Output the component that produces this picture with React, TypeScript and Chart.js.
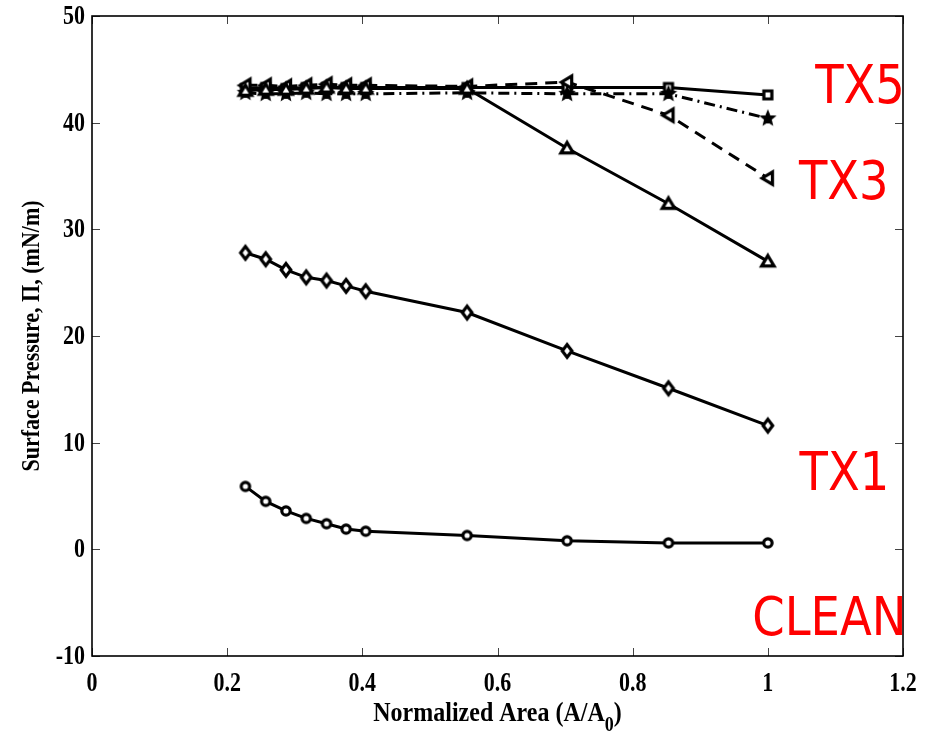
import React, { useEffect, useRef } from "react";
import { Chart, registerables } from "chart.js";

Chart.register(...registerables);

// Normalized trough area A/A0 at which each isotherm point was taken
const areaRatio = [0.227, 0.257, 0.287, 0.317, 0.347, 0.376, 0.405, 0.555, 0.703, 0.853, 1.0];

// Surface pressure (mN/m) for each film
const cleanPressure = [5.9, 4.5, 3.6, 2.9, 2.4, 1.9, 1.7, 1.3, 0.8, 0.6, 0.6];
const tx1Pressure = [27.8, 27.2, 26.2, 25.5, 25.2, 24.7, 24.2, 22.2, 18.6, 15.1, 11.6];
const tx2Pressure = [43.0, 43.1, 43.1, 43.2, 43.3, 43.2, 43.2, 43.2, 37.6, 32.4, 27.0];
const tx3Pressure = [43.5, 43.5, 43.4, 43.5, 43.6, 43.5, 43.5, 43.4, 43.8, 40.7, 34.8];
const tx4Pressure = [42.8, 42.7, 42.7, 42.8, 42.7, 42.7, 42.7, 42.8, 42.7, 42.7, 40.4];
const tx5Pressure = [43.2, 43.3, 43.2, 43.3, 43.3, 43.3, 43.3, 43.3, 43.3, 43.3, 42.6];

const xTicks = [0, 0.2, 0.4, 0.6, 0.8, 1, 1.2];
const yTicks = [-10, 0, 10, 20, 30, 40, 50];
const xTickLabels = ["0", "0.2", "0.4", "0.6", "0.8", "1", "1.2"];
const yTickLabels = ["-10", "0", "10", "20", "30", "40", "50"];

const sideLabels = ["TX5", "TX3", "TX1", "CLEAN"];

const SERIF = "'Liberation Serif', 'Times New Roman', serif";

function makeMarker(kind: string): HTMLCanvasElement {
  const c = document.createElement("canvas");
  c.width = 24;
  c.height = 24;
  const g = c.getContext("2d")!;
  g.translate(12, 12);
  g.lineWidth = 3.2;
  g.strokeStyle = "#000";
  g.fillStyle = "#fff";
  g.lineJoin = "miter";
  g.beginPath();
  if (kind === "circle") {
    g.arc(0, 0, 4.2, 0, Math.PI * 2);
  } else if (kind === "diamond") {
    g.moveTo(0, -6.4);
    g.lineTo(4.8, 0);
    g.lineTo(0, 6.4);
    g.lineTo(-4.8, 0);
    g.closePath();
  } else if (kind === "triangle") {
    g.moveTo(0, -5.8);
    g.lineTo(6.2, 4.6);
    g.lineTo(-6.2, 4.6);
    g.closePath();
  } else if (kind === "left") {
    g.moveTo(-5.8, 0);
    g.lineTo(4.6, -6.2);
    g.lineTo(4.6, 6.2);
    g.closePath();
  } else if (kind === "square") {
    g.rect(-4, -4, 8, 8);
  } else if (kind === "star") {
    g.fillStyle = "#000";
    for (let i = 0; i < 10; i++) {
      const r = i % 2 === 0 ? 7.2 : 3.2;
      const a = -Math.PI / 2 + (i * Math.PI) / 5;
      const px = r * Math.cos(a);
      const py = r * Math.sin(a);
      if (i === 0) g.moveTo(px, py);
      else g.lineTo(px, py);
    }
    g.closePath();
    g.lineWidth = 1.5;
  }
  g.fill();
  g.stroke();
  return c;
}

// draws text stretched vertically around its baseline point
function tallText(ctx: CanvasRenderingContext2D, text: string, x: number, y: number, sy: number) {
  ctx.save();
  ctx.translate(x, y);
  ctx.scale(1, sy);
  ctx.fillText(text, 0, 0);
  ctx.restore();
}

const framePlugin = {
  id: "matlabFrame",
  beforeDatasetsDraw(chart: any) {
    const { ctx, chartArea: a, scales } = chart;
    const tick = 8;
    ctx.save();
    ctx.strokeStyle = "#444";
    ctx.lineWidth = 1;
    ctx.beginPath();
    for (const v of xTicks) {
      const x = Math.round(scales.x.getPixelForValue(v)) + 0.5;
      ctx.moveTo(x, a.bottom);
      ctx.lineTo(x, a.bottom - tick);
      ctx.moveTo(x, a.top);
      ctx.lineTo(x, a.top + tick);
    }
    for (const v of yTicks) {
      const y = Math.round(scales.y.getPixelForValue(v)) + 0.5;
      ctx.moveTo(a.left, y);
      ctx.lineTo(a.left + tick, y);
      ctx.moveTo(a.right, y);
      ctx.lineTo(a.right - tick, y);
    }
    ctx.stroke();
    ctx.strokeStyle = "#000";
    ctx.lineWidth = 1.6;
    ctx.strokeRect(a.left, a.top, a.right - a.left, a.bottom - a.top);
    ctx.restore();
  },
  afterDraw(chart: any) {
    const { ctx, chartArea: a, scales } = chart;
    ctx.save();
    ctx.fillStyle = "#000";
    ctx.textBaseline = "alphabetic";

    // tick labels
    ctx.font = `bold 22px ${SERIF}`;
    ctx.textAlign = "center";
    xTicks.forEach((v, i) => {
      tallText(ctx, xTickLabels[i], scales.x.getPixelForValue(v), a.bottom + 35, 1.2);
    });
    ctx.textAlign = "right";
    yTicks.forEach((v, i) => {
      tallText(ctx, yTickLabels[i], a.left - 7, scales.y.getPixelForValue(v) + 8, 1.2);
    });

    // x-axis title with subscript
    ctx.textAlign = "left";
    const main = "Normalized Area (A/A";
    const sub = "0";
    const close = ")";
    const mainFont = `bold 24px ${SERIF}`;
    const subFont = `bold 18px ${SERIF}`;
    ctx.font = mainFont;
    const wMain = ctx.measureText(main).width;
    const wClose = ctx.measureText(close).width;
    ctx.font = subFont;
    const wSub = ctx.measureText(sub).width;
    const total = wMain + wSub + wClose;
    const x0 = (a.left + a.right) / 2 - total / 2;
    const base = 721;
    ctx.font = mainFont;
    tallText(ctx, main, x0, base, 1.12);
    ctx.font = subFont;
    tallText(ctx, sub, x0 + wMain, base + 10, 1.2);
    ctx.font = mainFont;
    tallText(ctx, close, x0 + wMain + wSub, base, 1.12);

    // y-axis title
    ctx.save();
    ctx.translate(39, (a.top + a.bottom) / 2);
    ctx.rotate(-Math.PI / 2);
    ctx.textAlign = "center";
    ctx.font = `bold 22px ${SERIF}`;
    tallText(ctx, "Surface Pressure, \u03a0, (mN/m)", 0, 0, 1.1);
    ctx.restore();

    // red series labels, anchored in data units
    const anchors = [
      [1.07, 41.8],
      [1.046, 32.8],
      [1.047, 5.6],
      [0.977, -8.0],
    ];
    ctx.textAlign = "left";
    ctx.fillStyle = "#ff0000";
    ctx.font = "54px 'DejaVu Sans', sans-serif";
    sideLabels.forEach((t, i) => {
      const px = scales.x.getPixelForValue(anchors[i][0]);
      const py = scales.y.getPixelForValue(anchors[i][1]);
      ctx.save();
      ctx.translate(px, py);
      ctx.scale(0.86, 1);
      ctx.fillText(t, 0, 0);
      ctx.restore();
    });
    ctx.restore();
  },
};

function series(values: number[], kind: string, dash: number[]) {
  return {
    data: areaRatio.map((x, i) => ({ x, y: values[i] })),
    borderColor: "#000",
    borderWidth: 3,
    borderDash: dash,
    pointStyle: makeMarker(kind),
    pointRadius: 6,
    fill: false,
    tension: 0,
  };
}

export default function App() {
  const ref = useRef<HTMLCanvasElement | null>(null);

  useEffect(() => {
    document.body.style.margin = "0";
    const chart = new Chart(ref.current!, {
      type: "line",
      data: {
        datasets: [
          series(cleanPressure, "circle", []),
          series(tx1Pressure, "diamond", []),
          series(tx2Pressure, "triangle", []),
          series(tx3Pressure, "left", [12, 8]),
          series(tx4Pressure, "star", [11, 5, 2, 5]),
          series(tx5Pressure, "square", []),
        ] as any,
      },
      options: {
        animation: false,
        responsive: false,
        layout: { padding: { left: 0, right: 32, top: 16, bottom: 0 } },
        plugins: { legend: { display: false }, tooltip: { enabled: false } },
        scales: {
          x: {
            type: "linear",
            min: 0,
            max: 1.2,
            afterBuildTicks: (s: any) => {
              s.ticks = xTicks.map((v) => ({ value: v }));
            },
            afterFit: (s: any) => {
              s.height = 77;
            },
            grid: { display: false, drawTicks: false },
            border: { display: false },
            ticks: { display: false },
          },
          y: {
            type: "linear",
            min: -10,
            max: 50,
            afterBuildTicks: (s: any) => {
              s.ticks = yTicks.map((v) => ({ value: v }));
            },
            afterFit: (s: any) => {
              s.width = 92;
            },
            grid: { display: false, drawTicks: false },
            border: { display: false },
            ticks: { display: false },
          },
        },
      } as any,
      plugins: [framePlugin],
    });
    return () => chart.destroy();
  }, []);

  return (
    <div style={{ width: 935, height: 733, background: "#fff" }}>
      <canvas ref={ref} width={935} height={733} style={{ display: "block" }} />
    </div>
  );
}
